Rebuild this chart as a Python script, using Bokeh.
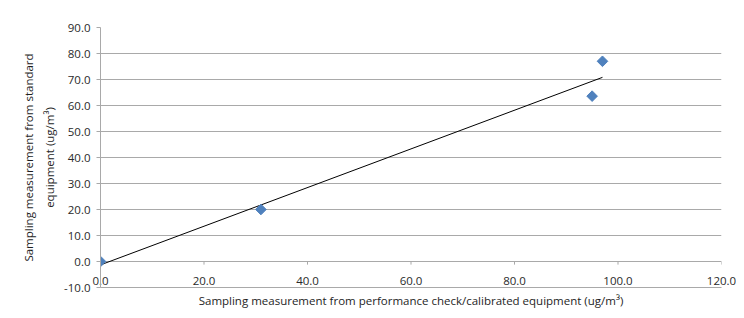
import numpy as np
from bokeh.plotting import figure
from bokeh.models import ColumnDataSource, FixedTicker, Range1d, NumeralTickFormatter
from bokeh.embed import file_html
from bokeh.resources import INLINE

# data
x_vals = [0.0, 31.0, 95.0, 97.0]
y_vals = [0.0, 20.0, 63.6, 77.0]
x_ticks = [0, 20, 40, 60, 80, 100, 120]
y_ticks = [-10, 0, 10, 20, 30, 40, 50, 60, 70, 80, 90]
x_title = "Sampling measurement from performance check/calibrated equipment (ug/m\u00b3)"
y_title = "Sampling measurement from standard\nequipment (ug/m\u00b3)"

FONT = "Open Sans"
GRID = "#a9a9a9"

p = figure(width=736, height=310, output_backend="svg", toolbar_location=None,
           x_range=Range1d(x_ticks[0], x_ticks[-1]), y_range=Range1d(y_ticks[0], y_ticks[-1]),
           min_border_left=100, min_border_right=15, min_border_top=27, min_border_bottom=22)
p.outline_line_color = None
p.background_fill_color = "white"
p.border_fill_color = "white"

p.xgrid.visible = False
p.ygrid.ticker = FixedTicker(ticks=y_ticks)
p.ygrid.grid_line_color = GRID
p.ygrid.grid_line_width = 1

p.xaxis.ticker = FixedTicker(ticks=x_ticks)
p.yaxis.ticker = FixedTicker(ticks=y_ticks)
p.xaxis.formatter = NumeralTickFormatter(format="0.0")
p.yaxis.formatter = NumeralTickFormatter(format="0.0")

for ax in (p.xaxis, p.yaxis):
    ax.axis_line_color = GRID
    ax.major_tick_line_color = GRID
    ax.minor_tick_line_color = None
    ax.major_label_text_font = FONT
    ax.major_label_text_font_size = "11.5px"
    ax.major_label_text_color = "#2a2a2a"
    ax.axis_label_text_font = FONT
    ax.axis_label_text_font_size = "11.5px"
    ax.axis_label_text_font_style = "normal"
    ax.axis_label_text_color = "#1e1e1e"

p.xaxis.major_tick_out = 0
p.xaxis.major_tick_in = 0
p.xaxis.major_label_standoff = -11
p.xaxis.axis_label = x_title
p.xaxis.axis_label_standoff = 5

p.yaxis.major_tick_out = 4
p.yaxis.major_tick_in = 0
p.yaxis.major_label_standoff = 6
p.yaxis.axis_label = y_title
p.yaxis.axis_label_standoff = 4
p.yaxis.axis_label_text_line_height = 1.4

# linear trend line from data
slope, intercept = np.polyfit(x_vals, y_vals, 1)
tx = [min(x_vals), max(x_vals)]
ty = [slope * t + intercept for t in tx]
p.line(tx, ty, line_color="black", line_width=1)

# small tick marks on the zero line
p.segment(x0=x_ticks, y0=[0] * len(x_ticks), x1=x_ticks, y1=[-1.2] * len(x_ticks),
          line_color=GRID, line_width=1)

src = ColumnDataSource(dict(x=x_vals, y=y_vals))
p.scatter("x", "y", source=src, marker="square", angle=np.pi / 4, size=7.5,
          fill_color="#4F81BD", line_color="#4F81BD")

open("out.html", "w").write(file_html(p, INLINE))
